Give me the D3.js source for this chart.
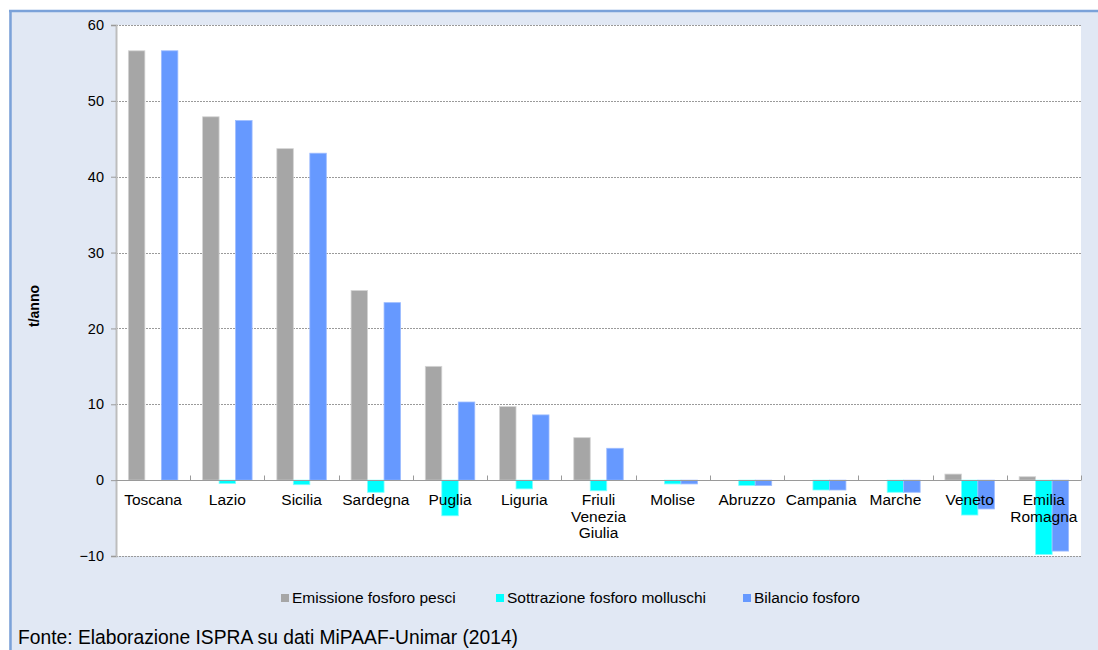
<!DOCTYPE html>
<html>
<head>
<meta charset="utf-8">
<script src="https://cdn.jsdelivr.net/npm/d3@7"></script>
<style>
  html, body { margin: 0; padding: 0; background: #ffffff; }
  svg { display: block; }
  text { font-family: "Liberation Sans", Arial, sans-serif; fill: #000; }
</style>
</head>
<body>
<svg id="chart" width="1098" height="650"></svg>
<script>
// Regions (one bar group per region)
const categories = ["Toscana", "Lazio", "Sicilia", "Sardegna", "Puglia", "Liguria",
  "Friuli Venezia Giulia", "Molise", "Abruzzo", "Campania", "Marche", "Veneto", "Emilia Romagna"];

// t/anno per region
const emissionePesci = [56.6, 47.9, 43.7, 25.0, 15.0, 9.7, 5.6, 0, 0, 0, 0, 0.8, 0.45];
const sottrazioneMolluschi = [0, -0.45, -0.6, -1.6, -4.7, -1.15, -1.4, -0.5, -0.7, -1.3, -1.6, -4.6, -9.8];
const bilancioFosforo = [56.6, 47.4, 43.1, 23.4, 10.3, 8.6, 4.2, -0.5, -0.7, -1.3, -1.6, -3.8, -9.35];

const seriesNames = ["Emissione fosforo pesci", "Sottrazione fosforo molluschi", "Bilancio fosforo"];
const seriesColors = ["#a6a6a6", "#00ffff", "#6699ff"];
const seriesEdges = ["#d4d4d4", "#7fffff", "#9dbcff"];
const yTicks = [-10, 0, 10, 20, 30, 40, 50, 60];
const yTitle = "t/anno";
const sourceNote = "Fonte: Elaborazione ISPRA su dati MiPAAF-Unimar (2014)";

const seriesValues = [emissionePesci, sottrazioneMolluschi, bilancioFosforo];

const svg = d3.select("#chart");

// Panel background with blue top/left border
svg.append("rect").attr("x", 9).attr("y", 10).attr("width", 1089).attr("height", 640)
  .attr("fill", "#e1e8f4");
svg.append("line").attr("x1", 9).attr("x2", 1098).attr("y1", 11).attr("y2", 11)
  .attr("stroke", "#7ba2d9").attr("stroke-width", 2.5);
svg.append("line").attr("x1", 10.5).attr("x2", 10.5).attr("y1", 10).attr("y2", 650)
  .attr("stroke", "#7ba2d9").attr("stroke-width", 2.5);

const plot = { left: 116, right: 1081, top: 25, bottom: 556 };

const y = d3.scaleLinear().domain([-10, 60]).range([plot.bottom, plot.top]);
const x = d3.scaleBand().domain(categories).range([plot.left, plot.right]).padding(0);
const bw = x.bandwidth();
const inset = bw * 0.75 / 4.5;
const xs = d3.scaleBand().domain(seriesNames).range([inset, bw - inset]).padding(0);

// Plot area
svg.append("rect").attr("x", plot.left).attr("y", plot.top)
  .attr("width", plot.right - plot.left).attr("height", plot.bottom - plot.top)
  .attr("fill", "#ffffff");

// Dotted gridlines
svg.append("g").selectAll("line").data(yTicks.filter(d => d !== 0)).join("line")
  .attr("x1", plot.left).attr("x2", plot.right)
  .attr("y1", d => Math.round(y(d)) + 0.5).attr("y2", d => Math.round(y(d)) + 0.5)
  .attr("stroke", "#9a9a9a").attr("stroke-width", 1).attr("stroke-dasharray", "2,1");

// Bars
const rows = categories.map((c, i) => ({ cat: c, vals: seriesValues.map(s => s[i]) }));
const groups = svg.append("g").selectAll("g").data(rows).join("g")
  .attr("transform", d => `translate(${x(d.cat)},0)`);
groups.selectAll("rect").data(d => d.vals.map((v, k) => ({ v, k })).filter(e => e.v !== 0))
  .join("rect")
  .attr("x", e => xs(seriesNames[e.k]))
  .attr("width", xs.bandwidth())
  .attr("y", e => Math.min(y(e.v), y(0)))
  .attr("height", e => Math.abs(y(e.v) - y(0)))
  .attr("fill", e => seriesColors[e.k])
  .attr("stroke", e => seriesEdges[e.k])
  .attr("stroke-width", 0.8);

// Y axis
const yAxis = d3.axisLeft(y).tickValues(yTicks).tickSize(5).tickPadding(7);
const gy = svg.append("g").attr("transform", `translate(${plot.left},0)`).call(yAxis);
gy.select(".domain").attr("stroke", "#bdbdbd").attr("stroke-width", 2);
gy.selectAll(".tick line").attr("stroke", "#9a9a9a");
gy.selectAll(".tick text").attr("font-size", 14.5).attr("font-family", "Liberation Sans, Arial, sans-serif").attr("fill", "#000");

// Zero line with category separators
const zeroY = Math.round(y(0)) + 0.5;
svg.append("line").attr("x1", plot.left).attr("x2", plot.right)
  .attr("y1", zeroY).attr("y2", zeroY).attr("stroke", "#9a9a9a").attr("stroke-width", 1.2);
const bounds = categories.map(c => x(c)).concat([plot.right]);
svg.append("g").selectAll("line").data(bounds.slice(1)).join("line")
  .attr("x1", d => Math.round(d) + 0.5).attr("x2", d => Math.round(d) + 0.5)
  .attr("y1", zeroY).attr("y2", zeroY - 5)
  .attr("stroke", "#9a9a9a");

// Category labels
const labels = svg.append("g").selectAll("text").data(categories).join("text")
  .attr("x", d => x(d) + bw / 2)
  .attr("y", 505)
  .attr("text-anchor", "middle")
  .attr("font-size", 15.5);
labels.each(function (d) {
  const words = d.split(" ");
  d3.select(this).selectAll("tspan").data(words).join("tspan")
    .attr("x", x(d) + bw / 2)
    .attr("dy", (w, i) => i === 0 ? 0 : 16.5)
    .text(w => w);
});

// Y axis title
svg.append("text")
  .attr("transform", "translate(39,306) rotate(-90)")
  .attr("text-anchor", "middle")
  .attr("font-size", 14).attr("font-weight", "bold")
  .text(yTitle);

// Legend
const legendX = [281, 496, 743];
const leg = svg.append("g").selectAll("g").data(seriesNames).join("g")
  .attr("transform", (d, i) => `translate(${legendX[i]},598)`);
leg.append("rect").attr("x", 0).attr("y", -4).attr("width", 8).attr("height", 8)
  .attr("fill", (d, i) => seriesColors[i]);
leg.append("text").attr("x", 11).attr("y", 5).attr("font-size", 15.5).text(d => d);

// Source note
svg.append("text").attr("x", 18).attr("y", 644)
  .attr("font-family", "Liberation Sans Narrow, Arial Narrow, Liberation Sans, sans-serif")
  .attr("font-size", 20.5)
  .attr("textLength", 500).attr("lengthAdjust", "spacingAndGlyphs")
  .text(sourceNote);
</script>
</body>
</html>
